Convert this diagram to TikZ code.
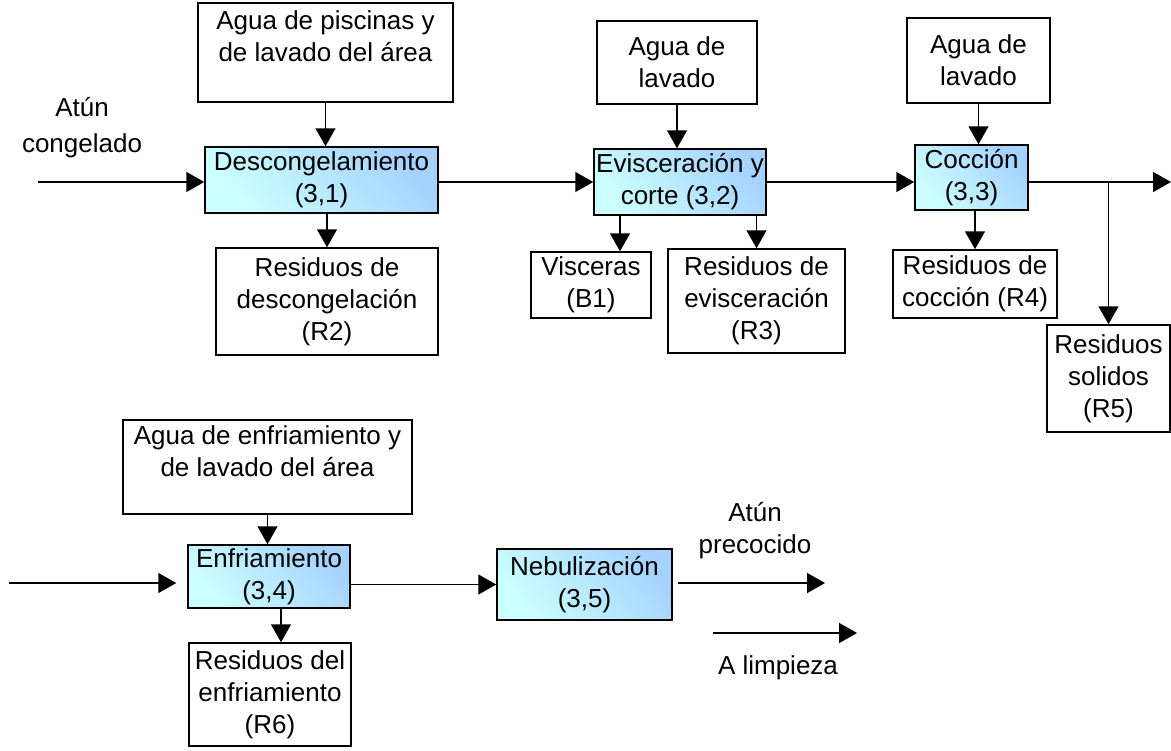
\documentclass[tikz,border=0pt]{standalone}
\usepackage{fontspec}
\setmainfont{Liberation Sans}
\usetikzlibrary{arrows.meta}
\definecolor{celeste}{RGB}{204,255,255}
\definecolor{azulclaro}{RGB}{165,210,255}
\tikzset{
  caja/.style={draw,line width=0.75pt,inner sep=0pt,align=center,font=\fontsize{13}{16}\selectfont},
  proceso/.style={caja,top color=azulclaro,bottom color=celeste,shading angle=-50},
  texto/.style={align=center,font=\fontsize{13}{16}\selectfont}
}
\begin{document}
\begin{tikzpicture}[x=0.5pt,y=-0.5pt,>={Triangle[length=9pt,width=10pt]},line width=0.75pt]
\useasboundingbox (0,0) rectangle (1171,750);
\node[caja,minimum width=127.5pt,minimum height=49.5pt] (agua1) at (325.5,52.5) {Agua de piscinas y\\de lavado del área\\~};
\node[proceso,minimum width=116.5pt,minimum height=33pt] (des) at (321.5,180) {Descongelamiento\\(3,1)};
\node[caja,minimum width=111pt,minimum height=53.5pt] (res2) at (327,301.5) {Residuos de\\descongelación\\(R2)};
\node[caja,minimum width=80pt,minimum height=41.5pt] (agua2) at (677,62.5) {Agua de\\lavado};
\node[proceso,minimum width=86pt,minimum height=33pt] (evi) at (680,182) {Evisceración y\\corte (3,2)};
\node[caja,minimum width=60pt,minimum height=33pt] (vis) at (591,285) {Visceras\\(B1)};
\node[caja,minimum width=88.5pt,minimum height=52pt] (res3) at (756.5,301) {Residuos de\\evisceración\\(R3)};
\node[caja,minimum width=71.5pt,minimum height=42.5pt] (agua3) at (978.5,60.5) {Agua de\\lavado};
\node[proceso,minimum width=56.5pt,minimum height=32.5pt] (coc) at (971.5,177.5) {Cocción\\(3,3)};
\node[caja,minimum width=82pt,minimum height=34pt] (res4) at (975,284) {Residuos de\\cocción (R4)};
\node[caja,minimum width=61.5pt,minimum height=53.5pt] (res5) at (1108.5,378.5) {Residuos\\solidos\\(R5)};
\node[caja,minimum width=144.5pt,minimum height=47pt] (agua4) at (267.5,467) {Agua de enfriamiento y\\de lavado del área\\~};
\node[proceso,minimum width=81pt,minimum height=31.5pt] (enf) at (269,576.5) {Enfriamiento\\(3,4)};
\node[caja,minimum width=81pt,minimum height=51.5pt] (res6) at (270,694.5) {Residuos del\\enfriamiento\\(R6)};
\node[proceso,minimum width=87.5pt,minimum height=35.5pt] (neb) at (584.5,584.5) {Nebulización\\(3,5)};
\node[texto] (atun1) at (82,128) {Atún\\[2pt]congelado};
\node[texto] (atun2) at (755,531) {Atún\\precocido};
\node[texto] (limp) at (778,668) {A limpieza};
\coordinate (e1) at (38,182);
\coordinate (e4) at (9,583);
\coordinate (s3) at (1171,182);
\coordinate (s5a) at (678,583);
\coordinate (s5b) at (825,583);
\coordinate (s6a) at (713,633);
\coordinate (s6b) at (857,633);
\draw[->] (e1) -- (e1 -| des.west);
\draw[->] (agua1.south) -- (agua1.south |- des.north);
\draw[->] (des.south -| res2) -- (res2.north);
\draw[->] (des.east |- e1) -- (e1 -| evi.west);
\draw[->] (agua2.south) -- (agua2.south |- evi.north);
\draw[->] ([xshift=-30pt]evi.south) -- ([xshift=-30pt]evi.south |- vis.north);
\draw[->] (evi.south -| res3) -- (res3.north);
\draw[->] (evi.east |- e1) -- (e1 -| coc.west);
\draw[->] (agua3.south) -- (agua3.south |- coc.north);
\draw[->] (coc.south -| res4) -- (res4.north);
\draw[->] (coc.east |- s3) -- (s3);
\draw[->] (s3 -| res5) -- (res5.north);
\draw[->] (agua4.south) -- (agua4.south |- enf.north);
\draw[->,shorten >=5.5pt] (e4) -- (e4 -| enf.west);
\draw[->] ([xshift=6pt]enf.south) -- ([xshift=6pt]enf.south |- res6.north);
\draw[->] (enf.east |- neb) -- (neb.west);
\draw[->] (s5a) -- (s5b);
\draw[->] (s6a) -- (s6b);
\end{tikzpicture}
\end{document}
